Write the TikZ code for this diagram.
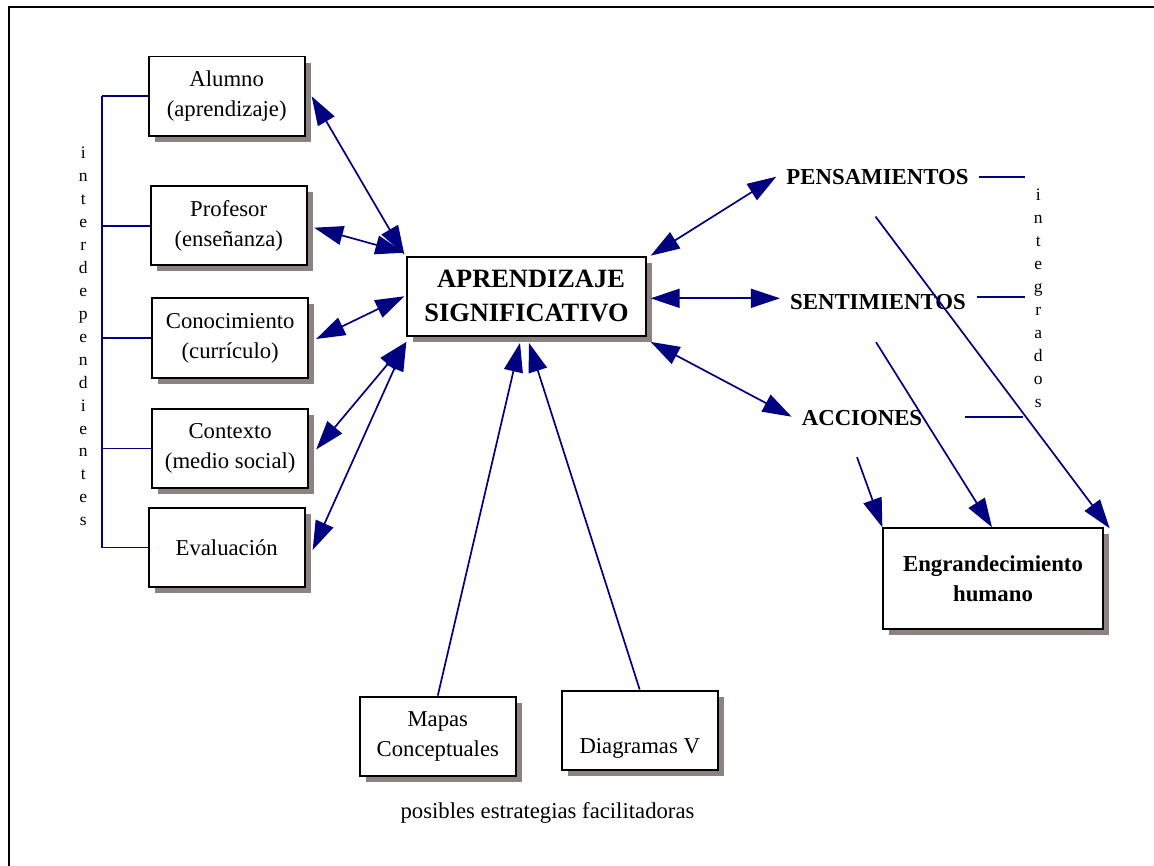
\documentclass[tikz,border=0pt]{standalone}
\usepackage{fontspec}
\setmainfont{Liberation Serif}
\usetikzlibrary{arrows.meta,shadows,calc}

\definecolor{navy}{RGB}{0,0,128}
\definecolor{shadowgray}{RGB}{140,130,130}

\newcommand\regfont{\fontsize{22.7}{30}\selectfont}
\newcommand\boldlblfont{\fontsize{22.8}{30}\selectfont\bfseries}
\newcommand\centralfont{\fontsize{26.4}{33.7}\selectfont\bfseries}
\newcommand\vertfont{\fontsize{17.5}{22.95}\selectfont}

\begin{document}
\begin{tikzpicture}[x=1pt,y=-1pt,
  box/.style={draw=black, line width=1.9pt, fill=white, inner sep=0pt, align=center,
    drop shadow={shadow xshift=6pt, shadow yshift=-6pt, fill=shadowgray, opacity=1}},
  sidebox/.style={box, minimum width=156pt, minimum height=79.5pt, font=\regfont},
  lbl/.style={font=\boldlblfont, inner sep=10pt},
  vert/.style={font=\vertfont, align=center, inner sep=0pt},
  link/.style={navy, line width=1.7pt},
  head/.style={Triangle[length=29pt,width=19pt]},
  twoway/.style={link, {Triangle[length=29pt,width=19pt]}-{Triangle[length=29pt,width=19pt]}},
  oneway/.style={link, -{Triangle[length=29pt,width=19pt]}}]

\useasboundingbox (0,0) rectangle (1154,866);
% open frame: left and top edges only
\draw[line width=2pt] (9.3,866) -- (9.3,7.3) -- (1154,7.3);

% left column of factors
\node[sidebox] (alumno)   at (226.7,96.3)  {Alumno\\(aprendizaje)};
\node[sidebox] (profesor) at (228.7,225.7) {Profesor\\(enseñanza)};
\node[sidebox] (conoc)    at (230.2,338)   {Conocimiento\\(currículo)};
\node[sidebox] (contexto) at (230.2,448.5) {Contexto\\(medio social)};
\node[sidebox] (eval)     at (226.7,547.5) {Evaluación};

% central concept
\node[box, minimum width=238.4pt, minimum height=79.3pt, font=\centralfont] (ap)
  at (526.5,296.3) {\hspace*{9pt}APRENDIZAJE\\SIGNIFICATIVO};

% outcome
\node[box, minimum width=219.4pt, minimum height=101pt, font=\boldlblfont] (eng)
  at (993,578.8) {Engrandecimiento\\humano};

% strategies
\node[sidebox] (mapas) at (437.8,736.3) {Mapas\\Conceptuales};
\node[sidebox] (diag)  at (639.7,730.3) {\strut\\Diagramas V};
\node[font=\regfont] (caption) at (547.5,813.3) {posibles estrategias facilitadoras};

% right labels
\node[lbl] (pens) at (877.5,176.7) {PENSAMIENTOS};
\node[lbl] (sent) at (878,302.3)   {SENTIMIENTOS};
\node[lbl] (acc)  at (862,418.3)   {ACCIONES};

% vertical words
\node[vert] (interdep) at (83.3,336.5) {i\\n\\t\\e\\r\\d\\e\\p\\e\\n\\d\\i\\e\\n\\t\\e\\s};
\node[vert] (integ) at (1038.3,298.3) {i\\n\\t\\e\\g\\r\\a\\d\\o\\s};

% bracket joining the left column
\coordinate (bk) at (101.7,0);
\draw[link] (alumno.west -| bk) -- (eval.west -| bk);
\foreach \n in {alumno,profesor,conoc,contexto,eval}
  \draw[link] (\n.west) -- (\n.west -| bk);

% left column <-> central concept
\draw[twoway] ([xshift=6pt]alumno.east) -- ($(ap.north west)+(-2,-1)$);
\draw[twoway] ($(profesor.east)+(6.5,2)$) -- ($(ap.north west)+(-2,-3)$);
\draw[twoway] ($(conoc.east)+(7,1)$) -- ($(ap.west)+(-2,0)$);
\draw[twoway] ($(contexto.east)+(7,1)$) -- ($(ap.south west)+(0,5)$);
\draw[twoway] ($(eval.east)+(7,2.5)$) -- ($(ap.south west)+(0,5)$);

% central concept <-> right labels
\draw[twoway] ($(ap.north east)+(4,0)$) -- (pens.west);
\draw[twoway] ($(ap.east)+(4,2)$) -- ($(sent.west)+(0,-4)$);
\draw[twoway] ($(ap.south east)+(4,5)$) -- ($(acc.west)+(0,-1.6)$);

% strategies -> central concept
\draw[oneway] (mapas.north) -- ($(ap.south)+(-6.5,6)$);
\draw[oneway] (diag.north) -- ($(ap.south)+(2.5,6)$);

% ticks of the "integrados" group
\coordinate (pensEnd) at (1025,176.7);
\coordinate (sentEnd) at (1025,296.7);
\coordinate (accEnd)  at (1023.3,416.7);
\draw[link] (pens.east) -- (pensEnd);
\draw[link] ($(sent.east)+(1,-5.6)$) -- (sentEnd);
\draw[link] ($(acc.east)+(33,-1.6)$) -- (accEnd);

% right labels -> outcome
\draw[oneway] ($(pens.south)+(-2,22)$) -- ($(eng.north east)+(6,1)$);
\draw[oneway] ($(sent.south)+(-2,22)$) -- ($(eng.north)+(-1,0)$);
\draw[oneway] ($(acc.south)+(-5,21)$) -- (eng.north west);

\end{tikzpicture}
\end{document}
